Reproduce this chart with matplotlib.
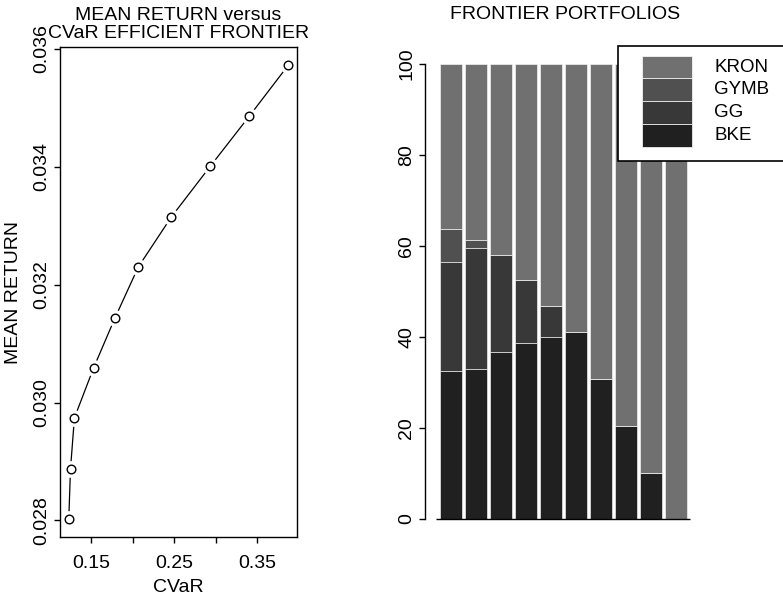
import matplotlib
matplotlib.use("Agg")
from matplotlib import pyplot as plt
from matplotlib.patches import Rectangle
import numpy as np

plt.rcParams['font.family'] = ['Liberation Sans', 'DejaVu Sans']

# frontier points
cvar = [0.1228, 0.1249, 0.1296, 0.1528, 0.1787, 0.2067, 0.2467, 0.2937, 0.3408, 0.3876]
mean_ret = [0.02803, 0.02888, 0.02974, 0.03059, 0.03144, 0.03230, 0.03315, 0.03401, 0.03486, 0.03572]

# portfolio weights in percent, bottom to top
assets = ['BKE', 'GG', 'GYMB', 'KRON']
bke = [32.6, 33.0, 36.6, 38.7, 39.9, 41.2, 30.8, 20.5, 10.1, 0.0]
gg = [23.9, 26.5, 21.4, 13.9, 7.0, 0.0, 0.0, 0.0, 0.0, 0.0]
gymb = [7.2, 1.8, 0.0, 0.0, 0.0, 0.0, 0.0, 0.0, 0.0, 0.0]
kron = [100 - a - b - c for a, b, c in zip(bke, gg, gymb)]
colors = ['#202020', '#383838', '#505050', '#707070']

W, H = 783, 603
fig = plt.figure(figsize=(W / 100, H / 100), dpi=100)


def px_rect(x0, y0, x1, y1):
    # pixel box (top-left origin) -> figure fraction [l, b, w, h]
    return [x0 / W, 1 - y1 / H, (x1 - x0) / W, (y1 - y0) / H]


# ---- left: efficient frontier ----
ax1 = fig.add_axes(px_rect(60, 47, 297, 537))
ax1.plot(cvar, mean_ret, color='black', lw=0.9, zorder=1)
ax1.plot(cvar, mean_ret, 'o', ms=11, mfc='white', mec='white', zorder=2)
ax1.plot(cvar, mean_ret, 'o', ms=6.2, mfc='white', mec='black', mew=1.0, zorder=3)
ax1.set_xlim(0.1122, 0.3982)
ax1.set_ylim(0.02772, 0.03603)
ax1.set_xticks([0.15, 0.20, 0.25, 0.30, 0.35])
ax1.set_xticklabels(['0.15', '', '0.25', '', '0.35'])
ax1.set_yticks([0.028, 0.030, 0.032, 0.034, 0.036])
ax1.set_yticklabels(['0.028', '0.030', '0.032', '0.034', '0.036'])
ax1.tick_params(direction='out', length=4.3, width=1.0, labelsize=14)
ax1.tick_params(axis='x', pad=9)
ax1.tick_params(axis='y', labelrotation=90, pad=2.7)
for lab in ax1.get_yticklabels():
    lab.set_va('center')
for sp in ax1.spines.values():
    sp.set_linewidth(1.0)
ax1.set_xlabel('CVaR', fontsize=14, va='center')
ax1.xaxis.set_label_coords(0.5, -0.103)
ax1.set_ylabel('MEAN RETURN', fontsize=14, va='center')
ax1.yaxis.set_label_coords(-0.196, 0.5)
ax1.text(0.5, 1.0459, 'MEAN RETURN versus\nCVaR EFFICIENT FRONTIER', transform=ax1.transAxes,
         ha='center', va='center', fontsize=14, linespacing=1.08)

# ---- right: frontier portfolios ----
ax2 = fig.add_axes(px_rect(425, 45.8, 705, 537.2))
x = np.arange(len(bke))
bottom = np.zeros(len(bke))
for vals, c in zip([bke, gg, gymb, kron], colors):
    ax2.bar(x, vals, width=0.9, bottom=bottom, color=c, edgecolor='white', linewidth=0.4)
    bottom += np.array(vals)
ax2.hlines(0, x[0] - 0.6, x[-1] + 0.57, color='black', lw=1.0)
ax2.set_xlim(-1.03, 10.17)
ax2.set_ylim(-4, 104)
ax2.set_yticks([0, 20, 40, 60, 80, 100])
ax2.set_xticks([])
for s in ['top', 'right', 'bottom']:
    ax2.spines[s].set_visible(False)
ax2.spines['left'].set_bounds(0, 100)
ax2.spines['left'].set_linewidth(1.0)
ax2.tick_params(direction='out', length=4.3, width=1.0, labelsize=14, pad=2.6)
ax2.tick_params(axis='y', labelrotation=90)
for lab in ax2.get_yticklabels():
    lab.set_va('center')
ax2.text(0.5, 1.0627, 'FRONTIER PORTFOLIOS', transform=ax2.transAxes,
         ha='center', va='center', fontsize=14)

# ---- legend (drawn by hand, box runs off the right edge) ----
fig.add_artist(Rectangle((618.3 / W, 1 - 160.7 / H), 200 / W, 115 / H,
                         transform=fig.transFigure, facecolor='white',
                         edgecolor='black', lw=1.2, clip_on=False, zorder=5))
row_h = 22.75
for i, (name, c) in enumerate(zip(assets[::-1], colors[::-1])):
    y0 = 55.7 + i * row_h
    fig.add_artist(Rectangle((641.7 / W, 1 - (y0 + row_h) / H), 50 / W, row_h / H,
                             transform=fig.transFigure, facecolor=c,
                             edgecolor='white', lw=0.5, zorder=6))
    fig.text(714.3 / W, 1 - (y0 + row_h / 2) / H, name, fontsize=13.5,
             ha='left', va='center', zorder=7)

fig.savefig('out.png', dpi=100)
